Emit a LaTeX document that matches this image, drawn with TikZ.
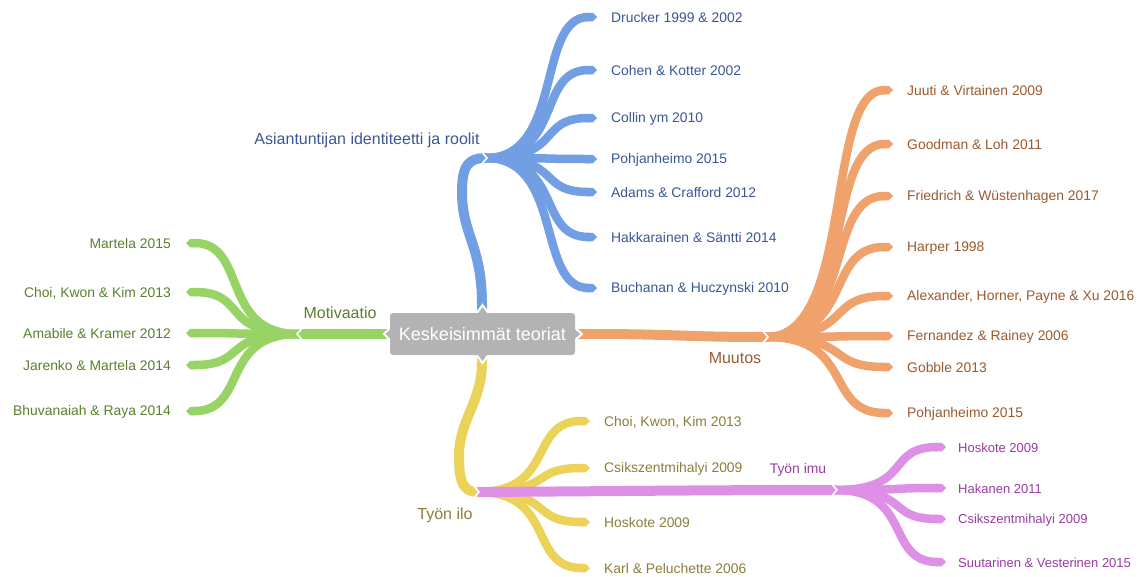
\documentclass[tikz,border=0pt]{standalone}
\usepackage{fontspec}
\setmainfont{Liberation Sans}
\usetikzlibrary{arrows.meta,calc}

\definecolor{bluerib}{HTML}{729FE4}
\definecolor{bluetxt}{HTML}{3A5795}
\definecolor{orangerib}{HTML}{F0A26C}
\definecolor{orangetxt}{HTML}{9B5A2F}
\definecolor{greenrib}{HTML}{97D365}
\definecolor{greentxt}{HTML}{5B7F2D}
\definecolor{yellowrib}{HTML}{EBD35A}
\definecolor{yellowtxt}{HTML}{8B7D3A}
\definecolor{pinkrib}{HTML}{DE90E6}
\definecolor{pinktxt}{HTML}{9B3AA4}
\definecolor{centerbox}{HTML}{B3B3B3}

\tikzset{
  trunk/.style={line width=10pt, draw=#1},
  leaf/.style={line width=8.5pt, draw=#1, -{Triangle Cap[]}},
  leaftxt/.style={font=\fontsize{13.9pt}{16pt}\selectfont, text=#1, inner sep=0pt, yshift=-1pt},
  smallleaftxt/.style={font=\fontsize{13pt}{15pt}\selectfont, text=#1, inner sep=0pt, yshift=-1pt},
  branchtxt/.style={font=\fontsize{16pt}{18pt}\selectfont, text=#1, inner sep=0pt},
  notch/.style={draw=white, line width=1.6pt},
}

\begin{document}
\begin{tikzpicture}[x=1pt, y=-1pt]
\useasboundingbox (0,0) rectangle (1138,576);

% ---- centre and junction points ----
\coordinate (c) at (482.5,334);
\coordinate (bn) at (486,158);   % blue fan root
\coordinate (gn) at (298,334);   % green fan root
\coordinate (on) at (767,337);   % orange fan root
\coordinate (yn) at (478,492);   % yellow fan root / pink start
\coordinate (pn) at (836,490);   % pink fan root

% ---- blue branch ----
\draw[trunk=bluerib] (c) -- (482,305) .. controls (482,245) and (462,235) .. (462,192)
  .. controls (462,166) and (468,158) .. (bn);
\foreach \y/\t [count=\i] in {17/{Drucker 1999 \& 2002}, 70/{Cohen \& Kotter 2002},
    118/{Collin ym 2010}, 159/{Pohjanheimo 2015}, 192/{Adams \& Crafford 2012},
    237/{Hakkarainen \& Säntti 2014}, 288/{Buchanan \& Huczynski 2010}} {
  \coordinate (b\i) at (597,\y);
  \draw[leaf=bluerib] (bn) .. controls (564,158) and (536,\y) .. (b\i);
  \node[leaftxt=bluetxt, anchor=west] (bl\i) at (611,\y) {\t};
}
\draw[notch] ($(bn)+(-6,-8)$) -- ($(bn)+(1,0)$) -- ($(bn)+(-6,8)$);
\node[branchtxt=bluetxt] (blab) at (367,140) {Asiantuntijan identiteetti ja roolit};

% ---- orange branch ----
\draw[trunk=orangerib] (c) -- (585,334) .. controls (680,334) and (680,337) .. (on);
\foreach \y/\t [count=\i] in {90/{Juuti \& Virtainen 2009}, 144/{Goodman \& Loh 2011},
    196/{Friedrich \& Wüstenhagen 2017}, 247/{Harper 1998},
    296/{Alexander, Horner, Payne \& Xu 2016}, 336/{Fernandez \& Rainey 2006},
    367/{Gobble 2013}, 413/{Pohjanheimo 2015}} {
  \coordinate (o\i) at (893,\y);
  \draw[leaf=orangerib] (on) .. controls (855,337) and (824,\y) .. (o\i);
  \node[leaftxt=orangetxt, anchor=west] (ol\i) at (907,\y) {\t};
}
\draw[notch] ($(on)+(-6,-8)$) -- ($(on)+(1,0)$) -- ($(on)+(-6,8)$);
\node[branchtxt=orangetxt] (olab) at (735,358) {Muutos};

% ---- green branch ----
\draw[trunk=greenrib] (c) -- (gn);
\foreach \y/\t [count=\i] in {243/{Martela 2015}, 292/{Choi, Kwon \& Kim 2013},
    333/{Amabile \& Kramer 2012}, 365/{Jarenko \& Martela 2014},
    411/{Bhuvanaiah \& Raya 2014}} {
  \coordinate (g\i) at (186,\y);
  \draw[leaf=greenrib] (gn) .. controls (220,334) and (248,\y) .. (g\i);
  \node[leaftxt=greentxt, anchor=east] (gl\i) at (171,\y) {\t};
}
\draw[notch] ($(gn)+(6,-8)$) -- ($(gn)+(-1,0)$) -- ($(gn)+(6,8)$);
\node[branchtxt=greentxt] (glab) at (340,313) {Motivaatio};

% ---- yellow branch ----
\draw[trunk=yellowrib] (c) -- (482,362) .. controls (482,402) and (459,420) .. (459,456)
  .. controls (459,482) and (463,492) .. (yn);
\foreach \y/\t [count=\i] in {421/{Choi, Kwon, Kim 2013}, 468/{Csikszentmihalyi 2009},
    522/{Hoskote 2009}, 568/{Karl \& Peluchette 2006}} {
  \coordinate (y\i) at (590,\y);
  \draw[leaf=yellowrib] (yn) .. controls (556,492) and (528,\y) .. (y\i);
  \node[leaftxt=yellowtxt, anchor=west] (yl\i) at (604,\y) {\t};
}
\node[branchtxt=yellowtxt] (ylab) at (445,515) {Työn ilo};

% ---- pink branch (grows out of the yellow one) ----
\draw[trunk=pinkrib] (yn) .. controls (650,491) and (700,490) .. (pn);
\draw[notch] ($(yn)+(-6,-8)$) -- ($(yn)+(1,0)$) -- ($(yn)+(-6,8)$);
\foreach \y/\t [count=\i] in {447/{Hoskote 2009}, 488/{Hakanen 2011},
    519/{Csikszentmihalyi 2009}, 562/{Suutarinen \& Vesterinen 2015}} {
  \coordinate (p\i) at (946,\y);
  \draw[leaf=pinkrib] (pn) .. controls (913,490) and (885,\y) .. (p\i);
  \node[smallleaftxt=pinktxt, anchor=west] (pl\i) at (958,\y) {\t};
}
\draw[notch] ($(pn)+(-6,-8)$) -- ($(pn)+(1,0)$) -- ($(pn)+(-6,8)$);
\node[font=\fontsize{13.9pt}{16pt}\selectfont, text=pinktxt, inner sep=0pt] (plab) at (798,470) {Työn imu};

% ---- central topic with its four pointed tabs ----
\begin{scope}[line width=2pt, draw=white, fill=centerbox]
  \filldraw (476,314) -- (482.5,305) -- (489,314);
  \filldraw (476,354) -- (482.5,363) -- (489,354);
  \filldraw (391,327) -- (384,334) -- (391,341);
  \filldraw (574,327) -- (582,334) -- (574,341);
\end{scope}
\node[fill=centerbox, rounded corners=3pt, minimum width=185pt, minimum height=42pt,
      inner sep=0pt, text=white, font=\fontsize{18pt}{20pt}\selectfont] (root) at (c)
      {Keskeisimmät teoriat};
\end{tikzpicture}
\end{document}
